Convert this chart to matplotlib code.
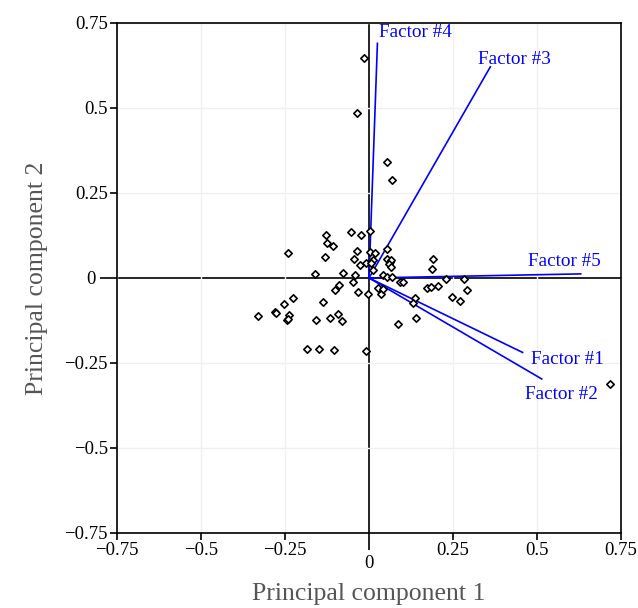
import matplotlib
matplotlib.use("Agg")
import matplotlib.pyplot as plt

plt.rcParams['font.family'] = ['Liberation Serif', 'DejaVu Serif']

# scores (principal component 1, principal component 2)
pc1 = [-0.016, -0.037, 0.054, 0.067,
       -0.129, -0.053, -0.023, 0.002, -0.126, -0.106, -0.240, -0.035, 0.002, 0.019,
       0.053, -0.130, -0.045, 0.011, 0.054, 0.062, 0.066, 0.058, -0.027, -0.008,
       0.007, 0.012, 0.065, -0.161, -0.076, -0.041, 0.043, 0.055, 0.068, -0.048,
       -0.088, -0.101, -0.033, -0.003, 0.027, 0.035, 0.042, -0.227, -0.253, -0.136,
       -0.280, -0.277, -0.237, -0.329, -0.244, -0.240, -0.093, -0.116, -0.157, -0.080,
       -0.186, -0.150, -0.104, -0.010,
       0.092, 0.102, 0.189, 0.187, 0.230, 0.283, 0.173, 0.183, 0.206, 0.293,
       0.248, 0.270, 0.138, 0.130, 0.139, 0.087, 0.718]
pc2 = [0.647, 0.486, 0.340, 0.287,
       0.126, 0.135, 0.125, 0.139, 0.102, 0.095, 0.073, 0.079, 0.075, 0.073,
       0.084, 0.061, 0.055, 0.053, 0.055, 0.048, 0.052, 0.040, 0.037, 0.043,
       0.043, 0.024, 0.033, 0.012, 0.014, 0.009, 0.009, 0.002, 0.002, -0.011,
       -0.022, -0.035, -0.041, -0.047, -0.030, -0.047, -0.033, -0.060, -0.076, -0.071,
       -0.101, -0.103, -0.109, -0.113, -0.124, -0.120, -0.106, -0.117, -0.125, -0.126,
       -0.208, -0.208, -0.212, -0.215,
       -0.013, -0.013, 0.056, 0.026, -0.004, -0.004, -0.030, -0.026, -0.023, -0.035,
       -0.055, -0.068, -0.058, -0.073, -0.118, -0.135, -0.312]

# loadings
factors = ['Factor #1', 'Factor #2', 'Factor #3', 'Factor #4', 'Factor #5']
load1 = [0.457, 0.514, 0.361, 0.025, 0.630]
load2 = [-0.219, -0.297, 0.621, 0.690, 0.012]

ticks = [-0.75, -0.5, -0.25, 0.25, 0.5, 0.75]
tick_labels = ['\u22120.75', '\u22120.5', '\u22120.25', '0.25', '0.5', '0.75']

fig = plt.figure(figsize=(6.38, 6.08), dpi=100)
ax = fig.add_axes([0.1834, 0.1234, 0.79, 0.8388])

ax.set_xlim(-0.75, 0.75)
ax.set_ylim(-0.75, 0.75)

ax.grid(True, color='#f0f0f0', linewidth=1, zorder=0)
ax.axhline(0, color='black', linewidth=1.2, zorder=1)
ax.axvline(0, color='black', linewidth=1.2, zorder=1)

ax.scatter(pc1, pc2, marker='D', s=14, facecolors='white', edgecolors='black',
           linewidths=1.2, zorder=3)

# label offsets in points
offsets = [(6, -5), (-12, -11), (-9, 5), (1, 8), (-38, 9)]
for name, lx, ly, off in zip(factors, load1, load2, offsets):
    ax.plot([0, lx], [0, ly], color='#0000ff', linewidth=1.2, zorder=2)
    ax.annotate(name, (lx, ly), xytext=off, textcoords='offset points',
                ha='left', va='center', color='#0000ff', fontsize=13.8)

ax.set_xticks(ticks)
ax.set_xticklabels(tick_labels)
ax.set_yticks(ticks)
ax.set_yticklabels(tick_labels)
# zero ticks are longer
ax.set_xticks([0], minor=True)
ax.set_xticklabels(['0'], minor=True)
ax.set_yticks([0], minor=True)
ax.set_yticklabels(['0'], minor=True)
ax.tick_params(which='major', direction='out', length=5, width=1.2, labelsize=13.5, pad=1.5)
ax.tick_params(which='minor', direction='out', length=12.5, width=1.2, labelsize=13.5, pad=3)

for s in ax.spines.values():
    s.set_linewidth(1.2)

ax.set_xlabel('Principal component 1', fontsize=18.5, color='#555555', labelpad=8)
ax.set_ylabel('Principal component 2', fontsize=18.5, color='#555555', labelpad=12)

fig.savefig('out.png', dpi=100)
